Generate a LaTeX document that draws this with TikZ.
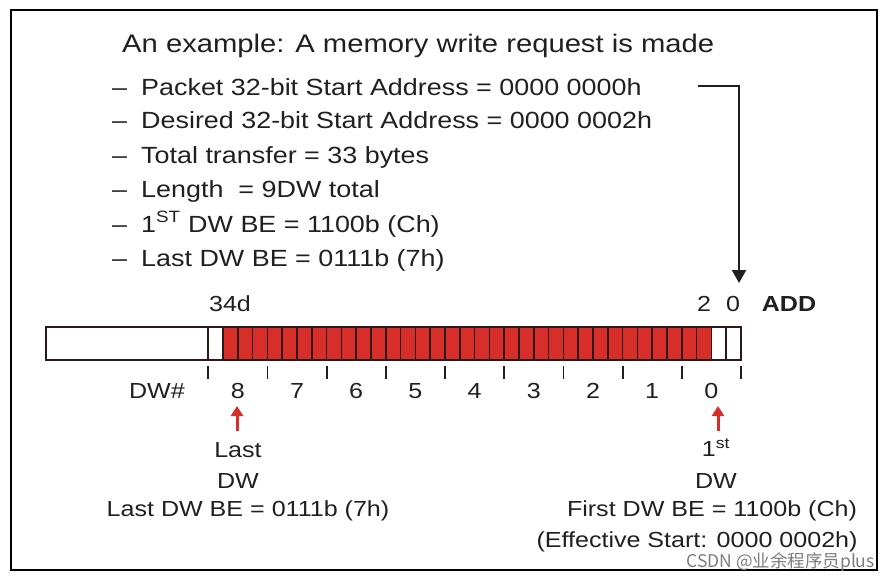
\documentclass[tikz,border=0pt]{standalone}
\usepackage{fontspec}
\setmainfont[FakeStretch=1.15]{Liberation Sans}
\newfontfamily\cjkfont{Noto Sans CJK SC}
\usetikzlibrary{arrows.meta}
\definecolor{cellred}{RGB}{216,46,42}
\definecolor{txt}{RGB}{32,32,32}
\definecolor{celledge}{RGB}{45,25,25}
\definecolor{wm}{RGB}{125,125,125}
\begin{document}
\begin{tikzpicture}[x=1pt,y=-1pt,
  titletext/.style={anchor=base west,inner sep=0pt,text=txt,font=\fontsize{25.4}{28}\selectfont},
  item/.style={anchor=base west,inner sep=0pt,text=txt,font=\fontsize{23.4}{26}\selectfont},
  lab/.style={anchor=base,inner sep=0pt,text=txt,font=\fontsize{21.8}{24}\selectfont},
  tick/.style={line width=1.8pt,draw=txt},
  cellline/.style={line width=1.6pt,draw=celledge},
  redarrow/.style={line width=3pt,draw=cellred,-{Triangle[width=12pt,length=10pt]}},
  blackarrow/.style={line width=2.4pt,draw=txt,-{Triangle[width=14pt,length=13pt]}}
]
\useasboundingbox (0,0) rectangle (891,581);
\fill[white] (0,0) rectangle (891,581);
% frame
\draw[line width=1.6pt,black] (11,10) rectangle (877,570);

% title and items
\node[titletext] (title) at (122,52) {An example: A memory write request is made};
\foreach \y/\n in {95/1,128/2,163/3,197/4,232/5,266/6}{
  \node[item] (d\n) at (112,\y) {--};
}
\node[item] (b1) at (141,95) {Packet 32-bit Start Address = 0000 0000h};
\node[item] (b2) at (141,128) {Desired 32-bit Start Address = 0000 0002h};
\node[item] (b3) at (141,163) {Total transfer = 33 bytes};
\node[item] (b4) at (141,197) {Length \ = 9DW total};
\node[item] (b5) at (141,232) {1\textsuperscript{ST} DW BE = 1100b (Ch)};
\node[item] (b6) at (141,266) {Last DW BE = 0111b (7h)};

% bar
\fill[cellred] (223,327) rectangle (711.4,360);
\foreach \i in {1,...,36}{
  \draw[cellline] ({741-14.8*\i},327) -- ({741-14.8*\i},360);
}
\draw[line width=1.9pt,draw=celledge] (46,327) rectangle (741,360);

% address labels
\node[lab] (a34) at (230,311) {34d};
\node[lab] (a2) at (704,311) {2};
\node[lab] (a0) at (733,311) {0};
\node[lab,font=\fontsize{21.8}{24}\selectfont\bfseries] (add) at (789,311) {ADD};

% ticks and DW numbers
\foreach \k in {0,...,9}{
  \draw[tick] ({208.2+59.2*\k},366) -- ({208.2+59.2*\k},379);
}
\node[lab] (dwh) at (157,398) {DW\#};
\foreach \k in {0,...,8}{
  \pgfmathtruncatemacro{\num}{8-\k}
  \node[lab] (n\num) at ({237.8+59.2*\k},398) {\num};
}

% packet address arrow
\coordinate (pstart) at (698,86);
\coordinate (pend) at (739,283);
\draw[blackarrow] (pstart) -| (pend);

% red arrows
\coordinate (lt) at (237,431);
\coordinate (lh) at (237,406);
\coordinate (ft) at (718,431);
\coordinate (fh) at (718,406);
\draw[redarrow] (lt) -- (lh);
\draw[redarrow] (ft) -- (fh);

% bottom labels
\node[lab] (last1) at (238,457) {Last};
\node[lab] (last2) at (238,488) {DW};
\node[lab] (last3) at (248,516) {Last DW BE = 0111b (7h)};
\node[lab] (first1) at (716,456) {1\textsuperscript{st}};
\node[lab] (first2) at (716,488) {DW};
\node[lab] (first3) at (712,516) {First DW BE = 1100b (Ch)};
\node[lab] (first4) at (697,547) {(Effective Start: 0000 0002h)};

% watermark
\node[anchor=base east,inner sep=0pt,text=wm,font=\cjkfont\fontsize{17.5}{19}\selectfont] (wmark) at (875,567.5) {CSDN @业余程序员plus};
\end{tikzpicture}
\end{document}
